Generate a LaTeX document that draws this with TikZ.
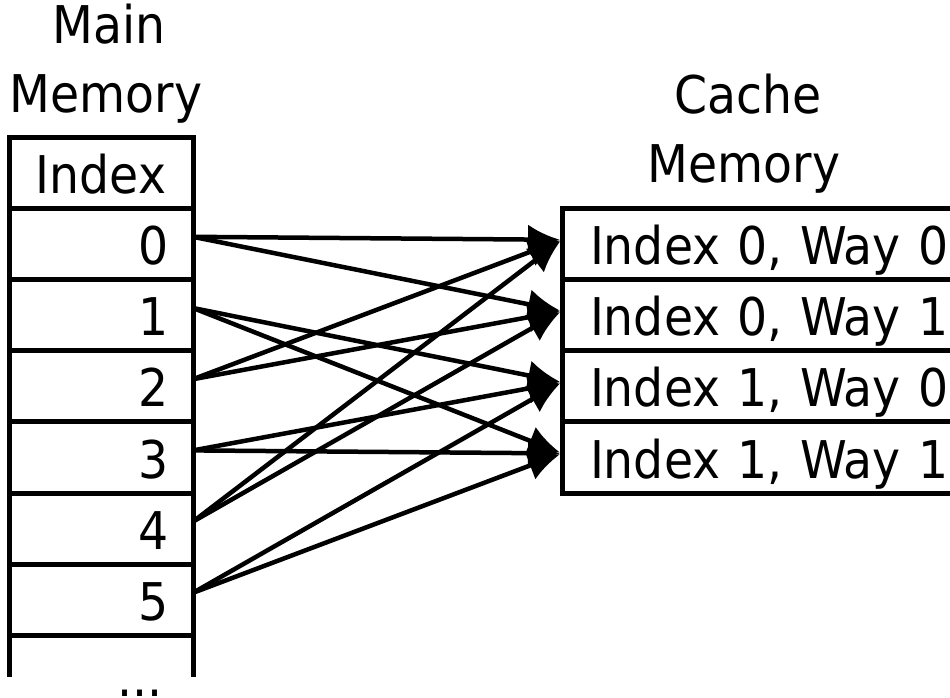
\documentclass[tikz,border=0pt]{standalone}
\usepackage{fontspec}
\setmainfont[FakeStretch=0.91]{DejaVu Sans}
\usetikzlibrary{arrows.meta}

\begin{document}
\begin{tikzpicture}[x=1pt,y=-1pt,
  txt/.style={font=\fontsize{52}{60}\selectfont, inner sep=0pt, anchor=base},
  cell/.style={draw=black, line width=5pt, outer sep=0pt, inner ysep=0pt,
    text height=56.2pt, text depth=15pt, font=\fontsize{52}{60}\selectfont},
  memhead/.style={cell, text width=184pt, inner xsep=0pt, align=center},
  memrow/.style={cell, text width=136pt, inner xsep=24pt, align=right},
  cacherow/.style={cell, anchor=west, text width=380pt, inner xsep=28pt, align=left},
  conn/.style={line width=4.5pt, shorten >=2pt, -{Latex[length=32pt,width=30pt]}}
]
\useasboundingbox (0,0) rectangle (950,697);

% titles
\node[txt] (mainA) at (109,43) {Main};
\node[txt] (mainB) at (106,112) {Memory};
\node[txt] (cacheA) at (748,113) {Cache};
\node[txt] (cacheB) at (744,182) {Memory};

% main memory column
\node[memhead] (mh) at (101,172.6) {Index};
\foreach \i in {0,...,5}
  \node[memrow] (m\i) at (101,{243.8+71.2*\i}) {\i};
\draw[line width=5pt] (m5.south west) -- ++(0,42) coordinate (tailL);
\draw[line width=5pt] (m5.south east) -- ++(0,42) coordinate (tailR);
\node[txt] (more) at (140,696) {...};

% cache memory column
\node[cacherow] (c0) at (562,243.8) {Index 0, Way 0};
\node[cacherow] (c1) at (562,315.0) {Index 0, Way 1};
\node[cacherow] (c2) at (562,386.2) {Index 1, Way 0};
\node[cacherow] (c3) at (562,457.4) {Index 1, Way 1};

% each block maps to both ways of its set
\foreach \m/\a/\b in {0/c0/c1, 2/c0/c1, 4/c0/c1, 1/c2/c3, 3/c2/c3, 5/c2/c3} {
  \draw[conn] ([yshift=7pt]m\m.east) -- ([yshift=4pt]\a.west);
  \draw[conn] ([yshift=7pt]m\m.east) -- ([yshift=4pt]\b.west);
}
\end{tikzpicture}
\end{document}
